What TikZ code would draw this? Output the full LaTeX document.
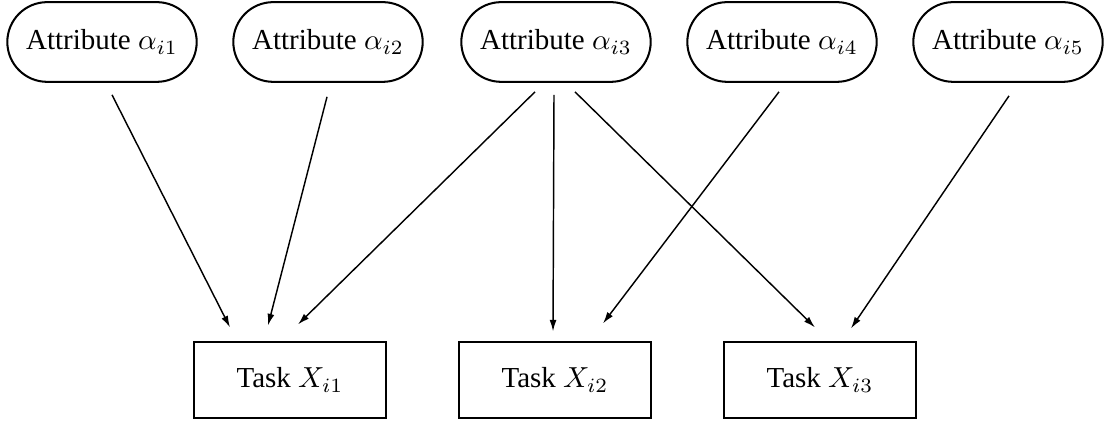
\documentclass[tikz,border=0pt]{standalone}
\usepackage{fontspec}
\setmainfont{Liberation Serif}
\usetikzlibrary{shapes.misc,arrows.meta,calc}

\begin{document}
\begin{tikzpicture}[x=0.345pt, y=-0.345pt,
    atributo/.style={draw, line width=0.7pt, rounded rectangle, minimum width=72pt, minimum height=27.5pt},
    tarefa/.style={draw, line width=0.7pt, rectangle, minimum width=66.2pt, minimum height=25.9pt},
    seta/.style={line width=0.5pt, -{Latex[length=4pt,width=2.4pt]}}]
    \useasboundingbox (0,0) rectangle (1107,424);

    % Atributos (linha de cima)
    \node[atributo] (a1) at (102, 42) {Attribute $\alpha_{i1}$}; % Atributo 1
    \node[atributo] (a2) at (328, 42) {Attribute $\alpha_{i2}$}; % Atributo 2
    \node[atributo] (a3) at (556, 42) {Attribute $\alpha_{i3}$}; % Atributo 3
    \node[atributo] (a4) at (782, 42) {Attribute $\alpha_{i4}$}; % Atributo 4
    \node[atributo] (a5) at (1008, 42) {Attribute $\alpha_{i5}$}; % Atributo 5

    % Tarefas (linha de baixo)
    \node[tarefa] (t1) at (290, 380) {Task $X_{i1}$}; % Tarefa 1
    \node[tarefa] (t2) at (555, 380) {Task $X_{i2}$}; % Tarefa 2
    \node[tarefa] (t3) at (820, 380) {Task $X_{i3}$}; % Tarefa 3

    % Setas dos atributos para as tarefas
    \draw[seta] ($(a1.south)+(10,12)$) -- ($(t1.north)+(-60,-14)$); % alpha1 -> X1
    \draw[seta] ($(a2.south)+(-1,14)$) -- ($(t1.north)+(-22,-16)$); % alpha2 -> X1
    \draw[seta] ($(a3.south)+(-21,9)$) -- ($(t1.north)+(8,-17)$); % alpha3 -> X1
    \draw[seta] ($(a3.south)+(-2,12)$) -- ($(t2.north)+(-2,-10)$); % alpha3 -> X2
    \draw[seta] ($(a3.south)+(19,9)$) -- ($(t3.north)+(-5,-14)$); % alpha3 -> X3
    \draw[seta] ($(a4.south)+(-3,9)$) -- ($(t2.north)+(48,-18)$); % alpha4 -> X2
    \draw[seta] ($(a5.south)+(1,13)$) -- ($(t3.north)+(31,-13)$); % alpha5 -> X3
\end{tikzpicture}
\end{document}
